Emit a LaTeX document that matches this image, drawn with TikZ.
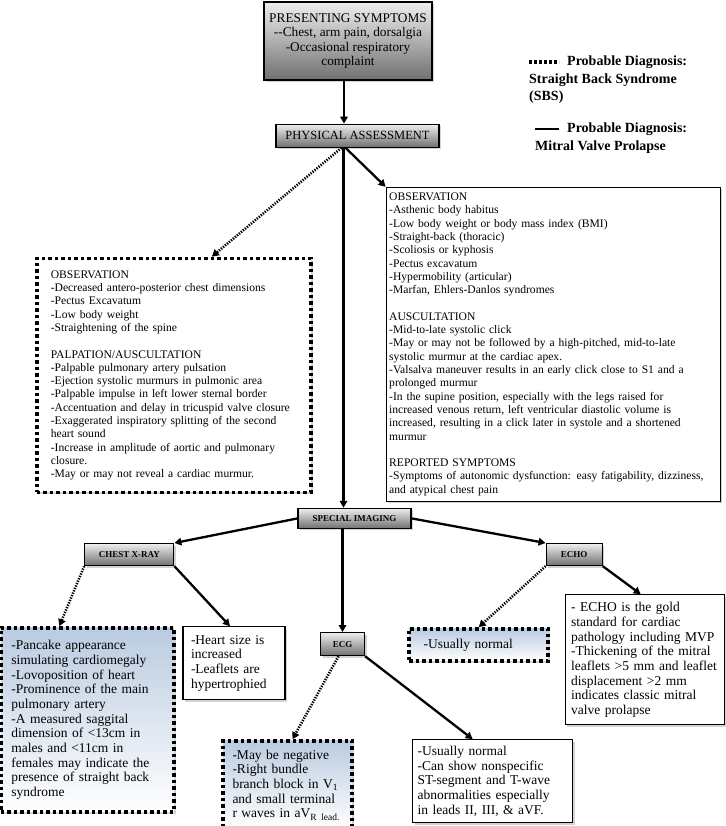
\documentclass[tikz,border=0pt]{standalone}
\usepackage{fontspec}
\setmainfont{Liberation Serif}
\usetikzlibrary{positioning,shadows,arrows.meta}
\definecolor{headtop}{RGB}{238,238,238}
\definecolor{headbot}{RGB}{112,112,112}
\definecolor{sbsfill}{RGB}{186,203,224}

\begin{document}
\begin{tikzpicture}[x=1pt,y=1pt,
    shadowed/.style={drop shadow={shadow xshift=2pt,shadow yshift=-2pt,opacity=.35}},
    titlebox/.style={draw,line width=1.2pt,top color=headtop,bottom color=headbot,shadowed,inner sep=0pt,align=center},
    smallhead/.style={titlebox,font=\fontsize{9}{11}\selectfont\bfseries},
    mvpnote/.style={draw,line width=1.2pt,fill=white,shadowed,inner ysep=0pt,align=left},
    sbsnote/.style={draw,line width=3.5pt,dash pattern=on 3.5pt off 3pt,fill=white,shadowed,inner ysep=0pt,align=left},
    sbsshade/.style={sbsnote,top color=sbsfill,bottom color=white},
    mvpline/.style={line width=2.3pt,-{Triangle[length=7pt,width=7.5pt]}},
    sbsline/.style={line width=2.6pt,dash pattern=on 1.3pt off 1.3pt,-{Triangle[length=7pt,width=7.5pt]}},
    keytext/.style={font=\fontsize{14}{17.5}\selectfont\bfseries,align=left,inner sep=0pt,anchor=north west},
    bodytext/.style={font=\fontsize{11.6}{13.3}\selectfont},
    bigtext/.style={font=\fontsize{13.5}{14.7}\selectfont}]
\useasboundingbox (0,0) rectangle (725,-826);

% top of the chart
\node[titlebox,minimum width=168pt,minimum height=78pt,font=\fontsize{13.3}{14.3}\selectfont] (ps) at (348,-41)
    {PRESENTING SYMPTOMS\\-{}-Chest, arm pain, dorsalgia\\-Occasional respiratory\\complaint};
\node[titlebox,minimum width=163pt,minimum height=23pt,font=\fontsize{12.5}{14}\selectfont,below=43pt of ps,xshift=9.5pt] (pa)
    {PHYSICAL ASSESSMENT};

% legend
\node[keytext] (sbskey) at (529,-56) {\hspace*{38pt}Probable Diagnosis:\\Straight Back Syndrome\\(SBS)};
\node[keytext] (mvpkey) at (535,-123) {\hspace*{32pt}Probable Diagnosis:\\Mitral Valve Prolapse};
\draw[line width=4pt,dash pattern=on 3pt off 2pt] ([yshift=-6pt]sbskey.north west) -- ++(30,0);
\draw[line width=2pt] ([yshift=-6.5pt]mvpkey.north west) -- ++(24,0);

% physical assessment
\node[mvpnote,bodytext,text width=328pt,inner xsep=3pt,minimum height=314pt,below right=39pt and -54pt of pa] (mvpexam)
    {OBSERVATION\\-Asthenic body habitus\\-Low body weight or body mass index (BMI)\\-Straight-back (thoracic)\\
     -Scoliosis or kyphosis\\-Pectus excavatum\\-Hypermobility (articular)\\-Marfan, Ehlers-Danlos syndromes\\[13.3pt]
     AUSCULTATION\\-Mid-to-late systolic click\\-May or may not be followed by a high-pitched, mid-to-late\\
     systolic murmur at the cardiac apex.\\-Valsalva maneuver results in an early click close to S1 and a\\
     prolonged murmur\\-In the supine position, especially with the legs raised for\\
     increased venous return, left ventricular diastolic volume is\\
     increased, resulting in a click later in systole and a shortened\\murmur\\[13.3pt]
     REPORTED SYMPTOMS\\-Symptoms of autonomic dysfunction: easy fatigability, dizziness,\\and atypical chest pain};
\node[sbsnote,bodytext,text width=246pt,inner xsep=14pt,minimum height=234pt,left=73pt of mvpexam,yshift=-31pt] (sbsexam)
    {OBSERVATION\\-Decreased antero-posterior chest dimensions\\-Pectus Excavatum\\-Low body weight\\
     -Straightening of the spine\\[13.3pt]
     PALPATION/AUSCULTATION\\-Palpable pulmonary artery pulsation\\-Ejection systolic murmurs in pulmonic area\\
     -Palpable impulse in left lower sternal border\\-Accentuation and delay in tricuspid valve closure\\
     -Exaggerated inspiratory splitting of the second\\heart sound\\
     -Increase in amplitude of aortic and pulmonary\\closure.\\-May or may not reveal a cardiac murmur.};

% special imaging
\node[smallhead,minimum width=113pt,minimum height=20pt,below=360pt of pa,xshift=-3pt] (si) {SPECIAL IMAGING};
\node[smallhead,minimum width=89pt,minimum height=22pt,below left=14pt and 123pt of si] (cxr) {CHEST X-RAY};
\node[smallhead,minimum width=56pt,minimum height=22pt,below right=14pt and 134pt of si] (echo) {ECHO};
\node[smallhead,minimum width=44pt,minimum height=23pt,below=103pt of si,xshift=-12pt] (ecg) {ECG};

\node[sbsshade,bigtext,text width=152pt,inner xsep=10.5pt,minimum height=184pt,below=60pt of cxr,xshift=-42pt] (cxrsbs)
    {-Pancake appearance\\simulating cardiomegaly\\-Lovoposition of heart\\-Prominence of the main\\pulmonary artery\\
     -A measured saggital\\dimension of <13cm in\\males and <11cm in\\females may indicate the\\presence of straight back\\syndrome};
\node[mvpnote,bigtext,text width=86pt,inner xsep=8pt,minimum height=73pt,below right=60pt and 8pt of cxr] (cxrmvp)
    {-Heart size is\\increased\\-Leaflets are\\hypertrophied};
\node[sbsshade,bigtext,text width=110pt,inner xsep=9.5pt,minimum height=88pt,below=83pt of ecg,xshift=-55pt] (ecgsbs)
    {-May be negative\\-Right bundle\\branch block in V\textsubscript{1}\\and small terminal\\r waves in aV\textsubscript{R lead.}};
\node[mvpnote,bigtext,text width=150pt,inner xsep=5pt,minimum height=83pt,below right=83pt and 47pt of ecg] (ecgmvp)
    {-Usually normal\\-Can show nonspecific\\ST-segment and T-wave\\abnormalities especially\\in leads II, III, \& aVF.};
\node[sbsshade,bigtext,text width=110pt,inner xsep=14.5pt,minimum height=32pt,below=61pt of echo,xshift=-95.5pt] (echosbs)
    {-Usually normal};
\node[mvpnote,bigtext,text width=147pt,inner xsep=6pt,minimum height=130pt,below=28pt of echo,xshift=70.5pt] (echomvp)
    {- ECHO is the gold\\standard for cardiac\\pathology including MVP\\-Thickening of the mitral\\
     leaflets >5 mm and leaflet\\displacement >2 mm\\indicates classic mitral\\valve prolapse};

% connectors
\draw[mvpline] ([xshift=-4pt]ps.south) -- ([xshift=-4pt]ps.south |- pa.north);
\draw[sbsline] ([xshift=-16pt]pa.south) -- ([xshift=38pt]sbsexam.north);
\draw[mvpline] ([xshift=-12pt]pa.south) -- (mvpexam.north west);
\draw[mvpline] ([xshift=-14pt]pa.south) -- ([xshift=-14pt]pa.south |- si.north);
\draw[mvpline] (si.west) -- (cxr.north east);
\draw[mvpline] (si.east) -- (echo.north west);
\draw[mvpline] (ecg.north |- si.south) -- (ecg.north);
\draw[sbsline] (cxr.south west) -- ([xshift=-28pt]cxrsbs.north);
\draw[mvpline] (cxr.south east) -- ([xshift=-4pt]cxrmvp.north);
\draw[sbsline] ([xshift=-4pt]ecg.south) -- ([xshift=5pt]ecgsbs.north);
\draw[mvpline] (ecg.south east) -- ([xshift=-20pt]ecgmvp.north);
\draw[sbsline] (echo.south west) -- (echosbs.north);
\draw[mvpline] (echo.south east) -- ([xshift=-4pt]echomvp.north);
\end{tikzpicture}
\end{document}
